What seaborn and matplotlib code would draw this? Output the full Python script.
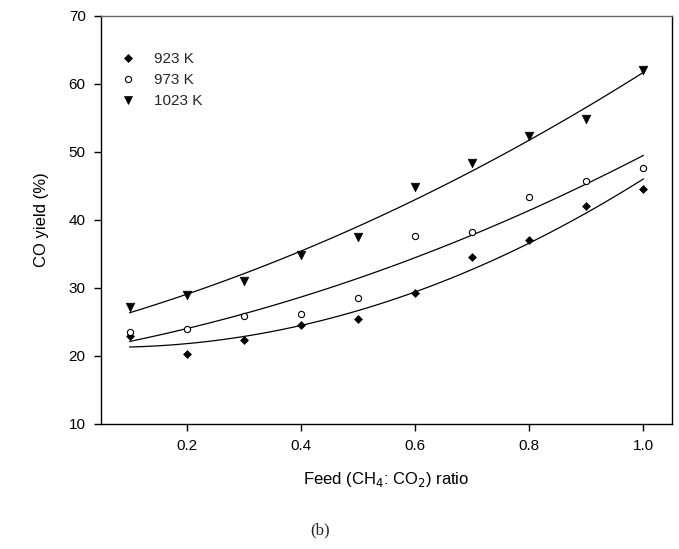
import numpy as np
import pandas as pd
import matplotlib
matplotlib.use("Agg")
import matplotlib.pyplot as plt
import seaborn as sns
from matplotlib.lines import Line2D

ratio = [0.1, 0.2, 0.3, 0.4, 0.5, 0.6, 0.7, 0.8, 0.9, 1.0]
y_923 = [23.0, 20.3, 22.3, 24.6, 25.4, 29.3, 34.5, 37.0, 42.1, 44.5]
y_973 = [23.5, 24.0, 25.9, 26.2, 28.6, 37.7, 38.3, 43.4, 45.7, 47.6]
y_1023 = [27.2, 29.0, 31.1, 34.9, 37.5, 44.9, 48.4, 52.4, 54.8, 62.0]
series_labels = ["923 K", "973 K", "1023 K"]
x_ticks = [0.2, 0.4, 0.6, 0.8, 1.0]
y_ticks = [10, 20, 30, 40, 50, 60, 70]

sns.set_theme(style="ticks")
plt.rcParams["font.family"] = ["Liberation Sans", "DejaVu Sans"]

fig = plt.figure(figsize=(6.79, 5.49), dpi=100)
ax = fig.add_axes([0.1487, 0.2277, 0.8410, 0.7432])

styles = [
    dict(marker="D", s=16, color="black", edgecolor="black", linewidth=0.5),
    dict(marker="o", s=20, color="white", edgecolor="black", linewidth=0.8),
    dict(marker="v", s=38, color="black", edgecolor="black", linewidth=0.5),
]

handles = []
for ys, lab, st in zip([y_923, y_973, y_1023], series_labels, styles):
    df = pd.DataFrame({"x": ratio, "y": ys})
    sns.regplot(data=df, x="x", y="y", order=2, ci=None, scatter=False,
                truncate=True, ax=ax,
                line_kws=dict(color="black", linewidth=0.9))
    sns.scatterplot(data=df, x="x", y="y", ax=ax, zorder=3, **st)
    handles.append(Line2D([], [], linestyle="none", marker=st["marker"],
                          markersize=np.sqrt(st["s"]),
                          markerfacecolor=st["color"],
                          markeredgecolor="black",
                          markeredgewidth=st["linewidth"], label=lab))

ax.set_xlim(0.05, 1.05)
ax.set_ylim(10, 70)
ax.set_xticks(x_ticks)
ax.set_xticklabels([f"{t:.1f}" for t in x_ticks])
ax.set_yticks(y_ticks)
ax.tick_params(axis="both", labelsize=11, colors="black", length=5,
               width=1, direction="out", pad=6)
for sp in ax.spines.values():
    sp.set_color("black")
    sp.set_linewidth(1.0)
ax.spines["top"].set_color("#666666")

ax.set_xlabel("Feed (CH$_4$: CO$_2$) ratio", fontsize=12, color="black", labelpad=12)
ax.set_ylabel("CO yield (%)", fontsize=12, color="black", labelpad=14)

leg = ax.legend(handles=handles, loc="upper left", bbox_to_anchor=(0.01, 0.945),
                frameon=False, fontsize=11, handletextpad=1.2,
                labelspacing=0.45, handlelength=1.0)

fig.text(0.471, 0.02, "(b)", ha="center", va="bottom",
         fontsize=12, family=["Liberation Serif", "DejaVu Serif"])

fig.savefig("out.png", dpi=100)
